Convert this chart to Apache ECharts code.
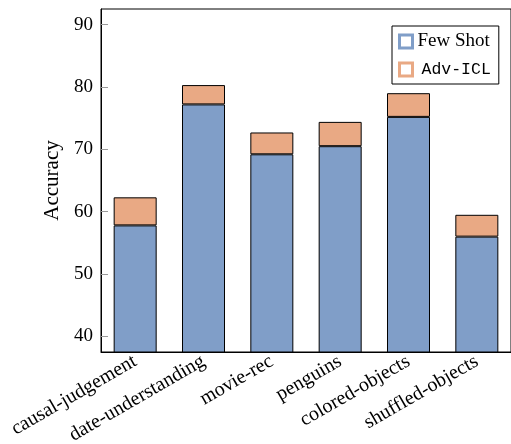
<!DOCTYPE html>
<html>
<head>
<meta charset="utf-8">
<script src="https://cdn.jsdelivr.net/npm/echarts@6/dist/echarts.min.js"></script>
<style>
  html, body { margin: 0; padding: 0; background: #fff; }
  #chart { width: 511px; height: 444px; }
</style>
</head>
<body>
<div id="chart"></div>
<script>
// Benchmark tasks along the x axis
const categories = ['causal-judgement', 'date-understanding', 'movie-rec', 'penguins', 'colored-objects', 'shuffled-objects'];
// Few-shot accuracy (lower segment)
const fewShot = [57.8, 77.2, 69.2, 70.5, 75.2, 56.0];
// Additional gain from Adv-ICL (upper segment, stacked on top)
const advGain = [4.5, 3.1, 3.5, 3.9, 3.8, 3.5];
// Y tick labels
const yTicks = [40, 50, 60, 70, 80, 90];

const BLUE = '#809ec8';
const ORANGE = '#e9a984';
const SERIF = '"Liberation Serif", "DejaVu Serif", serif';
const MONO = '"Liberation Mono", "DejaVu Sans Mono", monospace';

const chart = echarts.init(document.getElementById('chart'), null, { renderer: 'canvas' });

chart.setOption({
  animation: false,
  grid: {
    left: 101, top: 9, width: 410, bottom: 92,
    outerBoundsMode: 'none',
    containLabel: false,
    show: true, borderColor: '#000', borderWidth: 1, backgroundColor: 'transparent'
  },
  legend: {
    orient: 'vertical',
    left: 392, top: 26,
    padding: [6, 8, 6, 6],
    itemWidth: 13, itemHeight: 13,
    itemGap: 10,
    borderColor: '#000', borderWidth: 1,
    backgroundColor: '#fff',
    textStyle: {
      fontFamily: SERIF, fontSize: 19, color: '#000',
      rich: {
        tt: { fontFamily: MONO, fontSize: 16.5, color: '#000', padding: [0, 0, 0, 4] }
      }
    },
    formatter: function (name) {
      return name === 'Adv-ICL' ? '{tt|' + name + '}' : name;
    },
    data: [
      { name: 'Few Shot', icon: 'rect', itemStyle: { color: 'transparent', borderColor: BLUE, borderWidth: 3 } },
      { name: 'Adv-ICL', icon: 'rect', itemStyle: { color: 'transparent', borderColor: ORANGE, borderWidth: 3 } }
    ]
  },
  xAxis: {
    type: 'category',
    data: categories,
    axisLine: { lineStyle: { color: '#000', width: 1 } },
    axisTick: { show: false },
    axisLabel: {
      rotate: 30, margin: 8, interval: 0,
      fontFamily: SERIF, fontSize: 20, color: '#000'
    }
  },
  yAxis: {
    type: 'value',
    min: 37.5, max: 92.5,
    name: 'Accuracy',
    nameLocation: 'middle',
    nameGap: 37,
    nameTextStyle: { fontFamily: SERIF, fontSize: 21, color: '#000' },
    axisLine: { show: true, lineStyle: { color: '#000', width: 1 } },
    axisTick: { show: true, inside: true, length: 7, lineStyle: { color: '#999' }, customValues: yTicks },
    axisLabel: { margin: 8, fontFamily: SERIF, fontSize: 19, color: '#000', customValues: yTicks },
    splitLine: { show: false }
  },
  series: [
    {
      name: 'Few Shot', type: 'bar', stack: 'acc', data: fewShot, barWidth: 43,
      itemStyle: { color: BLUE, borderColor: '#000', borderWidth: 1 }
    },
    {
      name: 'Adv-ICL', type: 'bar', stack: 'acc', data: advGain, barWidth: 43,
      itemStyle: { color: ORANGE, borderColor: '#000', borderWidth: 1 }
    }
  ]
});
</script>
</body>
</html>
